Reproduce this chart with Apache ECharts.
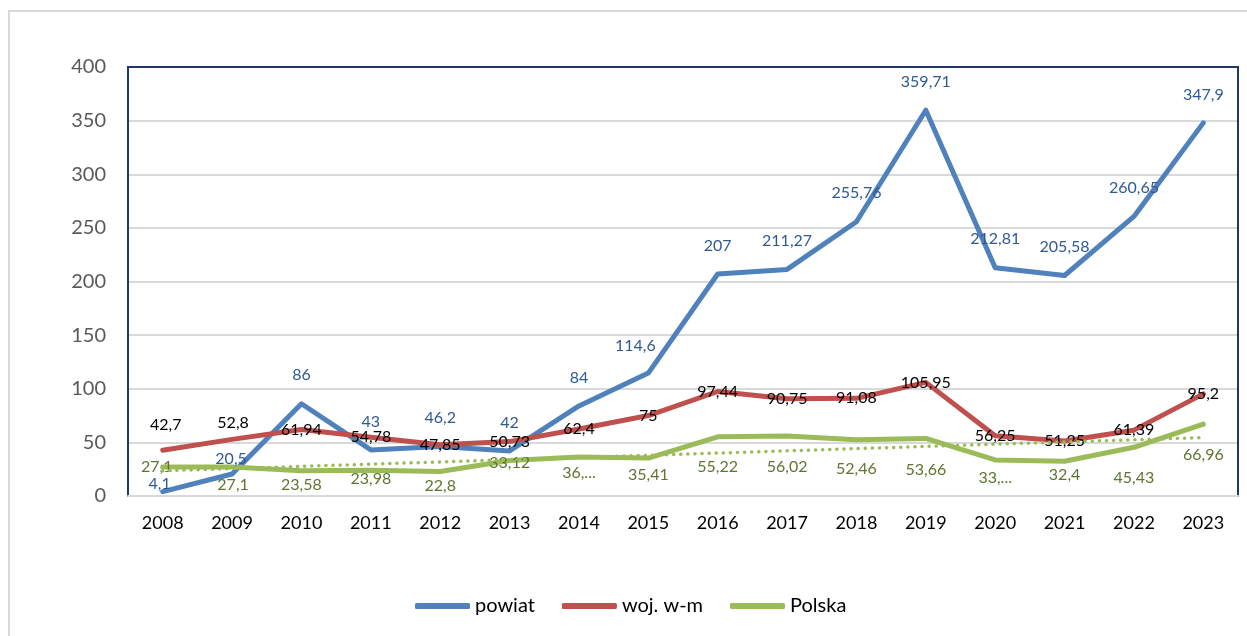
<!DOCTYPE html>
<html>
<head>
<meta charset="utf-8">
<script src="https://cdn.jsdelivr.net/npm/echarts@6/dist/echarts.min.js"></script>
<style>
  html, body { margin: 0; padding: 0; background: #fff; overflow: hidden; }
  .frame { position: absolute; left: 8px; top: 10px; width: 1300px; height: 700px; border-left: 2px solid #d9d9d9; border-top: 2px solid #d9d9d9; }
  #chart { position: absolute; left: 0; top: 0; width: 1247px; height: 636px; }
</style>
</head>
<body>
<div class="frame"></div>
<div id="chart"></div>
<script>
const years = ['2008', '2009', '2010', '2011', '2012', '2013', '2014', '2015', '2016', '2017', '2018', '2019', '2020', '2021', '2022', '2023'];
const powiat = [4.1, 20.5, 86, 43, 46.2, 42, 84, 114.6, 207, 211.27, 255.76, 359.71, 212.81, 205.58, 260.65, 347.9];
const wojWm = [42.7, 52.8, 61.94, 54.78, 47.85, 50.73, 62.4, 75, 97.44, 90.75, 91.08, 105.95, 56.25, 51.25, 61.39, 95.2];
const polska = [27.1, 27.1, 23.58, 23.98, 22.8, 33.12, 36.3, 35.41, 55.22, 56.02, 52.46, 53.66, 33.6, 32.4, 45.43, 66.96];
// two labels are cut short in the original
const polskaLabels = ['27,1', '27,1', '23,58', '23,98', '22,8', '33,12', '36,...', '35,41', '55,22', '56,02', '52,46', '53,66', '33,...', '32,4', '45,43', '66,96'];
// linear trend of Polska, read at both ends
const polskaTrend = [23.5, null, null, null, null, null, null, null, null, null, null, null, null, null, null, 54.5];
const yTicks = { min: 0, max: 400, interval: 50 };

// label nudges (px), index -> [dx, dy]
const blueShift = { 0: [-3, 21], 1: [-1, 13], 7: [-13, 1] };
const redShift = { 0: [3, -25], 1: [1, -17] };
const greenShift = [[-6, 0], [1, 18], [0, 14], [0, 9], [0, 14], [0, 2], [0, 16], [0, 17], [0, 30], [0, 31], [0, 29], [0, 31], [0, 18], [0, 14], [0, 31], [0, 31]];

const fmt = (v) => String(v).replace('.', ',');
const font = 'Lato';
const blue = '#4f81bd', red = '#c0504d', green = '#9bbb59';

const chart = echarts.init(document.getElementById('chart'), null, { renderer: 'canvas' });

function lineSeries(name, values, color, labelFor) {
  return {
    name,
    type: 'line',
    data: values.map((v, i) => ({ value: v, label: labelFor(i) })),
    symbol: 'circle',
    symbolSize: 1,
    showSymbol: true,
    itemStyle: { color },
    lineStyle: { color, width: 5, cap: 'round', join: 'round' },
    emphasis: { disabled: true },
    z: 3
  };
}

chart.setOption({
  animation: false,
  textStyle: { fontFamily: font },
  grid: { left: 128, right: 9, top: 67, bottom: 140, show: true, borderColor: '#1f3864', borderWidth: 2, backgroundColor: 'transparent', z: 10 },
  legend: {
    data: ['powiat', 'woj. w-m', 'Polska'],
    left: 410,
    top: 591,
    itemWidth: 55,
    itemHeight: 6,
    itemGap: 27,
    icon: 'roundRect',
    textStyle: { fontFamily: font, fontSize: 20, color: '#000' }
  },
  xAxis: {
    type: 'category',
    data: years,
    boundaryGap: true,
    axisLine: { show: true, lineStyle: { color: '#d9d9d9', width: 2 } },
    axisTick: { show: false },
    axisLabel: { color: '#000', fontSize: 18, fontFamily: font, margin: 18 },
    z: 11
  },
  yAxis: {
    type: 'value',
    min: yTicks.min,
    max: yTicks.max,
    interval: yTicks.interval,
    axisLine: { show: false },
    axisTick: { show: false },
    axisLabel: { color: '#595959', fontSize: 20, fontFamily: font, margin: 22 },
    splitLine: { lineStyle: { color: '#d9d9d9', width: 2 } }
  },
  series: [
    lineSeries('powiat', powiat, blue, (i) => ({
      show: true,
      position: 'top',
      distance: 20,
      offset: blueShift[i] || [0, 0],
      color: '#2e5a94',
      fontSize: 16,
      fontFamily: font,
      formatter: (p) => fmt(p.value)
    })),
    lineSeries('woj. w-m', wojWm, red, (i) => ({
      show: true,
      position: 'inside',
      offset: redShift[i] || [0, 0],
      color: '#000',
      fontSize: 16,
      fontFamily: font,
      formatter: (p) => fmt(p.value)
    })),
    lineSeries('Polska', polska, green, (i) => ({
      show: true,
      position: 'inside',
      offset: greenShift[i],
      color: '#5e7530',
      fontSize: 16,
      fontFamily: font,
      formatter: () => polskaLabels[i]
    })),
    {
      name: 'trend',
      type: 'line',
      data: polskaTrend,
      connectNulls: true,
      symbol: 'none',
      lineStyle: { color: green, width: 3.5, type: [0.1, 7], cap: 'round' },
      emphasis: { disabled: true },
      z: 4
    }
  ]
});
</script>
</body>
</html>
